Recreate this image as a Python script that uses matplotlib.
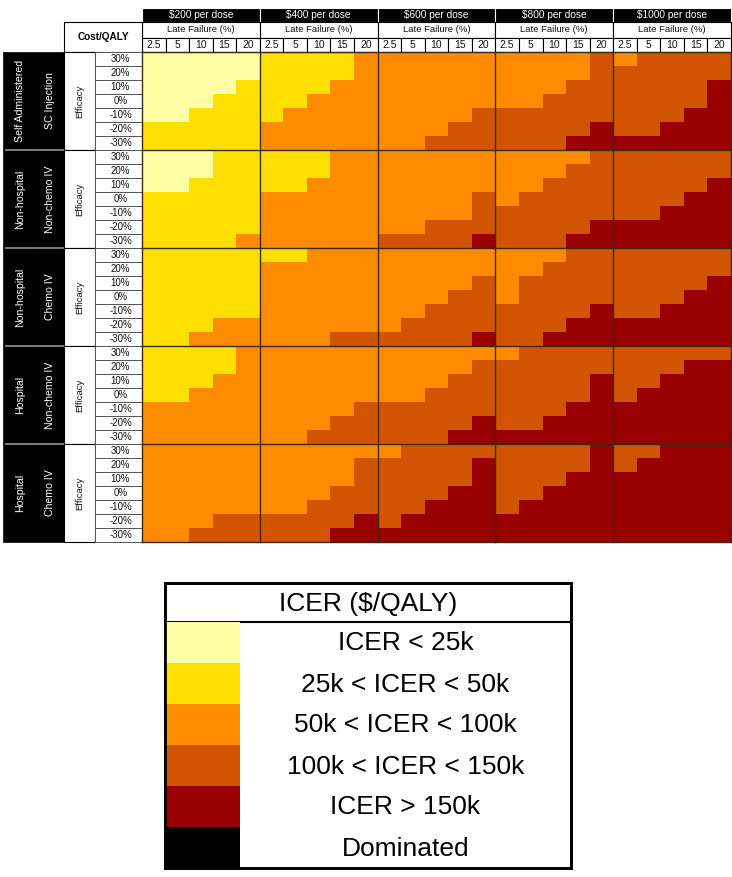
import matplotlib
matplotlib.use("Agg")
import matplotlib.pyplot as plt
import numpy as np
from matplotlib.colors import ListedColormap, BoundaryNorm
from matplotlib.patches import Rectangle

plt.rcParams['font.family'] = ['Liberation Sans', 'DejaVu Sans']

# ---------------- data ----------------
prices = ["$200 per dose", "$400 per dose", "$600 per dose", "$800 per dose", "$1000 per dose"]
late_failure = ["2.5", "5", "10", "15", "20"]
efficacy = ["30%", "20%", "10%", "0%", "-10%", "-20%", "-30%"]
routes = [("Self Administered", "SC Injection"),
          ("Non-hospital", "Non-chemo IV"),
          ("Non-hospital", "Chemo IV"),
          ("Hospital", "Non-chemo IV"),
          ("Hospital", "Chemo IV")]
categories = ["ICER < 25k", "25k < ICER < 50k", "50k < ICER < 100k",
              "100k < ICER < 150k", "ICER > 150k", "Dominated"]
cat_codes = ["L", "Y", "O", "D", "R", "K"]
cat_colors = ["#FFFFA6", "#FFDF00", "#FF8C00", "#D25400", "#990000", "#000000"]

# each route: one panel per price, rows = efficacy 30%..-30%, cols = late failure
sc_injection = [
    ["LLLLL", "LLLLL", "LLLLY", "LLLYY", "LLYYY", "YYYYY", "YYYYY"],
    ["YYYYO", "YYYYO", "YYYOO", "YYOOO", "YOOOO", "OOOOO", "OOOOO"],
    ["OOOOO", "OOOOO", "OOOOO", "OOOOO", "OOOOD", "OOODD", "OODDD"],
    ["OOOOD", "OOOOD", "OOODD", "OODDD", "DDDDD", "DDDDR", "DDDRR"],
    ["ODDDD", "DDDDD", "DDDDR", "DDDDR", "DDDRR", "DDRRR", "RRRRR"],
]
nonhosp_nonchemo = [
    ["LLLYY", "LLLYY", "LLYYY", "YYYYY", "YYYYY", "YYYYY", "YYYYO"],
    ["YYYOO", "YYYOO", "YYOOO", "OOOOO", "OOOOO", "OOOOO", "OOOOO"],
    ["OOOOO", "OOOOO", "OOOOO", "OOOOD", "OOOOD", "OODDD", "DDDDR"],
    ["OOOOD", "OOODD", "OODDD", "ODDDD", "DDDDD", "DDDDR", "DDDRR"],
    ["DDDDD", "DDDDD", "DDDDR", "DDDRR", "DDRRR", "RRRRR", "RRRRR"],
]
nonhosp_chemo = [
    ["YYYYY", "YYYYY", "YYYYY", "YYYYY", "YYYYY", "YYYOO", "YYOOO"],
    ["YYOOO", "OOOOO", "OOOOO", "OOOOO", "OOOOO", "OOOOO", "OOODD"],
    ["OOOOO", "OOOOO", "OOOOD", "OOODD", "OODDD", "ODDDD", "DDDDR"],
    ["OOODD", "OODDD", "ODDDD", "ODDDD", "DDDDR", "DDDRR", "DDRRR"],
    ["DDDDD", "DDDDD", "DDDDR", "DDDRR", "DDRRR", "RRRRR", "RRRRR"],
]
hosp_nonchemo = [
    ["YYYYO", "YYYYO", "YYYOO", "YYOOO", "OOOOO", "OOOOO", "OOOOO"],
    ["OOOOO", "OOOOO", "OOOOO", "OOOOO", "OOOOD", "OOODD", "OODDD"],
    ["OOOOO", "OOOOD", "OOODD", "OODDD", "DDDDD", "DDDDR", "DDDRR"],
    ["ODDDD", "DDDDD", "DDDDR", "DDDDR", "DDDRR", "DDRRR", "RRRRR"],
    ["DDDDD", "DDDRR", "DDRRR", "DRRRR", "RRRRR", "RRRRR", "RRRRR"],
]
hosp_chemo = [
    ["OOOOO", "OOOOO", "OOOOO", "OOOOO", "OOOOO", "OOODD", "OODDD"],
    ["OOOOO", "OOOOD", "OOOOD", "OOODD", "OODDD", "DDDDR", "DDDRR"],
    ["ODDDD", "DDDDR", "DDDDR", "DDDRR", "DDRRR", "DRRRR", "RRRRR"],
    ["DDDDR", "DDDDR", "DDDRR", "DDRRR", "DRRRR", "RRRRR", "RRRRR"],
    ["DDRRR", "DRRRR", "RRRRR", "RRRRR", "RRRRR", "RRRRR", "RRRRR"],
]
route_panels = [sc_injection, nonhosp_nonchemo, nonhosp_chemo, hosp_nonchemo, hosp_chemo]

# ---------------- layout (pixels) ----------------
W, H = 732, 877
fig = plt.figure(figsize=(W / 100, H / 100), dpi=100)
ax = fig.add_axes([0, 0, 1, 1])
ax.set_xlim(0, W)
ax.set_ylim(H, 0)
ax.axis('off')

gx0, gx1 = 142, 731
gy0, gy1 = 52, 542
n_r, n_c = len(efficacy), len(late_failure)
n_routes, n_prices = len(routes), len(prices)
cw = (gx1 - gx0) / (n_prices * n_c)
ch = (gy1 - gy0) / (n_routes * n_r)
pw, ph = cw * n_c, ch * n_r

# build matrix
mat = np.zeros((n_routes * n_r, n_prices * n_c), dtype=int)
for ri, panels in enumerate(route_panels):
    for pi, rows in enumerate(panels):
        for r, s in enumerate(rows):
            for c, code in enumerate(s):
                mat[ri * n_r + r, pi * n_c + c] = cat_codes.index(code)

cmap = ListedColormap(cat_colors)
norm = BoundaryNorm(np.arange(-0.5, len(cat_colors) + 0.5), cmap.N)
xe = np.linspace(gx0, gx1, n_prices * n_c + 1)
ye = np.linspace(gy0, gy1, n_routes * n_r + 1)
ax.pcolormesh(xe, ye, mat, cmap=cmap, norm=norm, shading='flat', antialiased=False)

line_c = "#3a2a1a"
for k in range(n_prices + 1):
    x = gx0 + k * pw
    ax.plot([x, x], [gy0, gy1], color=line_c, lw=1.0, zorder=3)
for k in range(n_routes + 1):
    y = gy0 + k * ph
    ax.plot([gx0, gx1], [y, y], color=line_c, lw=1.0, zorder=3)

# ---------------- header ----------------
hb0, hb1 = 8, 22     # price boxes
hl1 = 38             # late failure row bottom
for pi, p in enumerate(prices):
    x = gx0 + pi * pw
    ax.add_patch(Rectangle((x, hb0), pw, hb1 - hb0, facecolor='black', edgecolor='white', lw=0.8))
    ax.text(x + pw / 2, (hb0 + hb1) / 2 + 0.5, p, color='white', ha='center', va='center', fontsize=7.3)
    ax.add_patch(Rectangle((x, hb1), pw, hl1 - hb1, facecolor='white', edgecolor='black', lw=0.8))
    ax.text(x + pw / 2, (hb1 + hl1) / 2, "Late Failure (%)", ha='center', va='center', fontsize=6.8, color='#111111')
    for c, lf in enumerate(late_failure):
        cx = x + c * cw
        ax.add_patch(Rectangle((cx, hl1), cw, gy0 - hl1, facecolor='white', edgecolor='black', lw=0.8))
        ax.text(cx + cw / 2, (hl1 + gy0) / 2 + 0.5, lf, ha='center', va='center', fontsize=7.5, color='#111111')

# Cost/QALY box
ax.add_patch(Rectangle((64, hb1), gx0 - 64, gy0 - hb1, facecolor='white', edgecolor='black', lw=0.8))
ax.text((64 + gx0) / 2, (hb1 + gy0) / 2, "Cost/QALY", ha='center', va='center', fontsize=7.2, fontweight='bold')

# ---------------- left labels ----------------
bx0, bx1 = 3, 64
ax.add_patch(Rectangle((bx0, gy0), bx1 - bx0, gy1 - gy0, facecolor='black', edgecolor='black', lw=0.5))
ex0, ex1 = 64, 95
for ri, (l1, l2) in enumerate(routes):
    y0 = gy0 + ri * ph
    yc = y0 + ph / 2
    ax.text(20, yc, l1, rotation=90, color='white', ha='center', va='center', fontsize=7.6)
    ax.text(50, yc, l2, rotation=90, color='white', ha='center', va='center', fontsize=7.6)
    if ri > 0:
        ax.plot([bx0 + 3, 34], [y0, y0], color='#8a8a8a', lw=1.3, zorder=4)
        ax.plot([36, bx1 - 1], [y0, y0], color='#8a8a8a', lw=1.3, zorder=4)
    ax.add_patch(Rectangle((ex0, y0), ex1 - ex0, ph, facecolor='white', edgecolor='black', lw=0.8))
    ax.text((ex0 + ex1) / 2, yc, "Efficacy", rotation=90, ha='center', va='center', fontsize=6.8, color='#111111')
    for r, e in enumerate(efficacy):
        ry = y0 + r * ch
        ax.add_patch(Rectangle((ex1, ry), gx0 - ex1, ch, facecolor='white', edgecolor='#555555', lw=0.7))
        ax.text((ex1 + gx0) / 2 + 2, ry + ch / 2, e, ha='center', va='center', fontsize=7.0, color='#111111')

# ---------------- legend ----------------
lx0, lx1 = 165, 571
ly0, ly1 = 583, 868
lt = 622
sw = 240
rh = (ly1 - lt) / len(categories)
ax.add_patch(Rectangle((lx0, ly0), lx1 - lx0, ly1 - ly0, facecolor='white', edgecolor='black', lw=2, zorder=5))
ax.plot([lx0, lx1], [lt, lt], color='black', lw=1.5, zorder=6)
ax.text((lx0 + lx1) / 2, (ly0 + lt) / 2 + 1, "ICER ($/QALY)", ha='center', va='center', fontsize=19, zorder=6)
for i, (lab, col) in enumerate(zip(categories, cat_colors)):
    y = lt + i * rh
    ax.add_patch(Rectangle((lx0, y), sw - lx0, rh, facecolor=col, edgecolor='none', zorder=6))
    ax.text((sw + lx1) / 2, y + rh / 2 + 1, lab, ha='center', va='center', fontsize=19, zorder=6)
ax.add_patch(Rectangle((lx0, ly0), lx1 - lx0, ly1 - ly0, facecolor='none', edgecolor='black', lw=2, zorder=7))

fig.savefig("out.png", dpi=100)
